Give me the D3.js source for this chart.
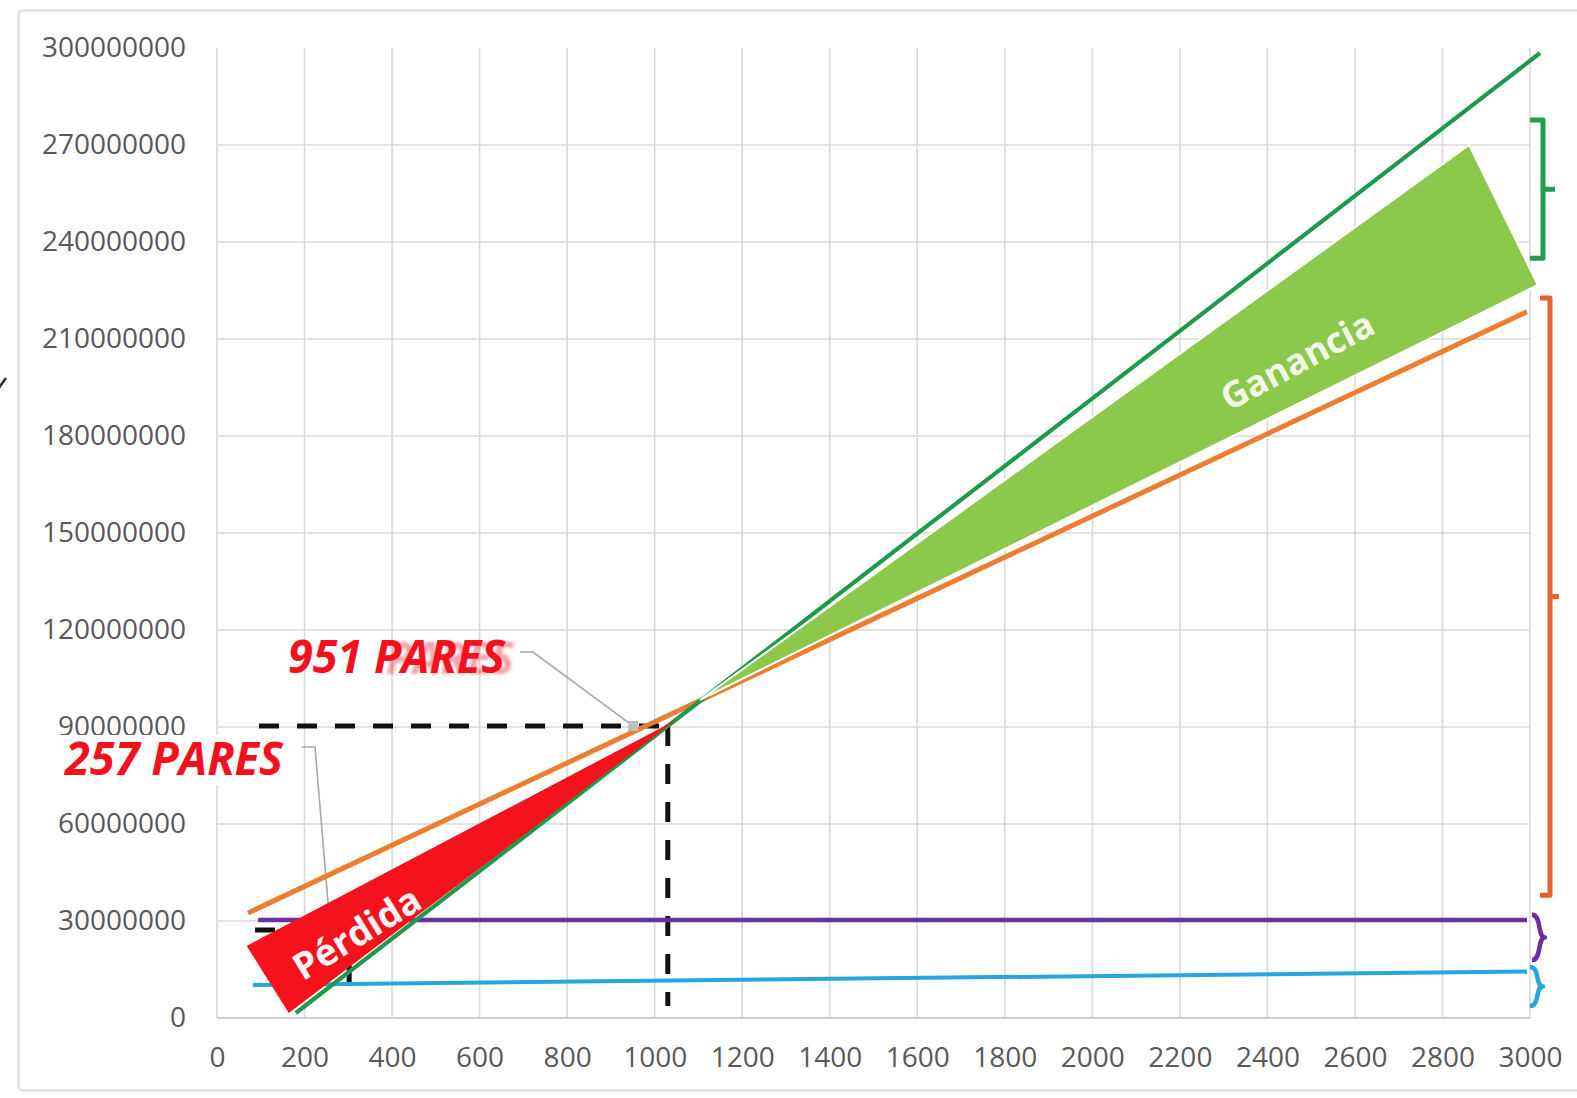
<!DOCTYPE html>
<html>
<head>
<meta charset="utf-8">
<script src="https://cdn.jsdelivr.net/npm/d3@7"></script>
<style>
  html, body { margin: 0; padding: 0; background: #fff; }
  svg { display: block; }
</style>
</head>
<body>
<svg id="chart" width="1577" height="1098"></svg>
<script>
// Axis ticks: units sold (pares) and money (pesos)
const xTicks = [0, 200, 400, 600, 800, 1000, 1200, 1400, 1600, 1800, 2000, 2200, 2400, 2600, 2800, 3000];
const yTicks = [0, 30000000, 60000000, 90000000, 120000000, 150000000, 180000000, 210000000, 240000000, 270000000, 300000000];

// Series endpoints as [pares, pesos]
const ingresos      = [[180, 1550000], [3023, 298450000]];
const costoTotal    = [[71, 32500000], [2993, 218400000]];
const costoFijo     = [[94, 30300000], [2993, 30300000]];
const costoVariable = [[82, 10200000], [2993, 14400000]];

// Shaded regions as [pares, pesos]
const perdidaArea  = [[1049, 92200000], [68, 22300000], [164, 1550000]];
const gananciaArea = [[1105, 98500000], [2861, 270000000], [3018, 226700000]];

// Reference points
const equilibrioPares = 951;
const equilibrioPesos = 90300000;
const guiaEquilibrio = { pares: 1030, desde: 96 };
const minimoPares = 257;
const guiaMinimo = { pares: 302, pesos: 27200000, desde: 87 };

// Brackets on the right edge: [from, to] in pesos
const llaves = [[235000000, 277700000], [38000000, 222700000], [17900000, 31900000], [3700000, 15800000]];

const svg = d3.select("#chart");
const x = d3.scaleLinear().domain([0, 3000]).range([217, 1530]);
const y = d3.scaleLinear().domain([0, 300000000]).range([1018, 48]);
const line = d3.line().x(d => x(d[0])).y(d => y(d[1]));
const FONT = "'Open Sans', 'DejaVu Sans', sans-serif";

// outer frame
svg.append("rect").attr("x", 18.5).attr("y", 10.5).attr("width", 1600).attr("height", 1080)
  .attr("rx", 4).attr("fill", "none").attr("stroke", "#dcdcdc").attr("stroke-width", 2);

// gridlines
const grid = svg.append("g").attr("stroke", "#d9d9d9").attr("stroke-width", 1.6);
grid.selectAll(".vg").data(xTicks).join("line")
  .attr("x1", d => x(d)).attr("x2", d => x(d)).attr("y1", y(300000000)).attr("y2", y(0));
grid.selectAll(".hg").data(yTicks.filter(d => d > 0 && d < 300000000)).join("line")
  .attr("x1", x(0)).attr("x2", x(3000)).attr("y1", d => y(d)).attr("y2", d => y(d));
svg.append("line").attr("x1", x(0)).attr("x2", x(3000)).attr("y1", y(0)).attr("y2", y(0))
  .attr("stroke", "#cfcfcf").attr("stroke-width", 2);

// axes
const yAxis = svg.append("g").attr("transform", `translate(${x(0)},0)`)
  .call(d3.axisLeft(y).tickValues(yTicks).tickFormat(d3.format("d")).tickSize(0).tickPadding(31));
const xAxis = svg.append("g").attr("transform", `translate(0,${y(0)})`)
  .call(d3.axisBottom(x).tickValues(xTicks).tickFormat(d3.format("d")).tickSize(0).tickPadding(29));
[yAxis, xAxis].forEach(a => {
  a.select(".domain").remove();
  a.selectAll("text").attr("fill", "#595959").style("font-family", FONT).style("font-size", "28px");
});
yAxis.selectAll("text").attr("dy", "0.3em");

// dashed guide lines
const dash = svg.append("g").attr("stroke", "#111").attr("stroke-width", 5)
  .attr("stroke-dasharray", "20 18").attr("fill", "none");
dash.append("path").attr("d", line([[guiaEquilibrio.desde, equilibrioPesos], [guiaEquilibrio.pares, equilibrioPesos]]));
dash.append("path").attr("d", line([[guiaEquilibrio.pares, equilibrioPesos], [guiaEquilibrio.pares, 3700000]]));
dash.append("path").attr("d", line([[guiaMinimo.desde, guiaMinimo.pesos], [guiaMinimo.pares, guiaMinimo.pesos]]));
dash.append("path").attr("d", line([[guiaMinimo.pares, guiaMinimo.pesos], [guiaMinimo.pares, 5000000]]))
  .attr("stroke-dashoffset", 4);

// callout leaders
const lead = svg.append("g").attr("stroke", "#a8a8a8").attr("stroke-width", 1.6).attr("fill", "none");
lead.append("path").attr("d", `M520,652 H533 L${x(equilibrioPares)},${y(equilibrioPesos)}`);
lead.append("path").attr("d", `M302,747 H315 L${x(minimoPares)},${y(30300000)}`);

// series lines
svg.append("path").attr("d", line(costoVariable)).attr("stroke", "#27a5df").attr("stroke-width", 4).attr("fill", "none");
svg.append("path").attr("d", line(costoFijo)).attr("stroke", "#6e2f9e").attr("stroke-width", 4.5).attr("fill", "none");
svg.append("path").attr("d", line(costoTotal)).attr("stroke", "#ec7d33").attr("stroke-width", 5).attr("fill", "none");
svg.append("path").attr("d", line(ingresos)).attr("stroke", "#1d9a4c").attr("stroke-width", 4.2).attr("fill", "none");

// profit and loss regions
svg.append("path").attr("d", line(gananciaArea) + "Z").attr("fill", "#8cc84b")
  .attr("stroke", "#fff").attr("stroke-width", 2).attr("stroke-linejoin", "round");
svg.append("path").attr("d", line(perdidaArea) + "Z").attr("fill", "#f5121c");

// break-even marker
svg.append("rect").attr("x", x(equilibrioPares) - 5).attr("y", y(equilibrioPesos) - 5)
  .attr("width", 10).attr("height", 10).attr("fill", "#bdbdbd");

// region labels
svg.append("text").text("Ganancia")
  .attr("transform", "translate(1297,360) rotate(-28.2)")
  .attr("text-anchor", "middle").attr("dominant-baseline", "central")
  .attr("fill", "#f1f8e6").style("font-family", FONT).style("font-weight", 700).style("font-size", "36px");
svg.append("text").text("Pérdida")
  .attr("transform", "translate(356,932) rotate(-31.5)")
  .attr("text-anchor", "middle").attr("dominant-baseline", "central")
  .attr("fill", "#fff3f3").style("font-family", FONT).style("font-weight", 700).style("font-size", "37px");

// brackets
const colLlave = ["#1e9e4e", "#e9612d", "#6e2f9e", "#27a5df"];
const g0 = svg.append("g").attr("fill", "none").attr("stroke-width", 5).attr("stroke-linejoin", "round");
[[0, 1530, 1543, 1555], [1, 1540, 1550, 1559]].forEach(([i, xl, xv, xt]) => {
  const [a, b] = llaves[i];
  const yt = y(b), yb = y(a), ym = (yt + yb) / 2;
  g0.append("path").attr("stroke", colLlave[i]).attr("d", `M${xl},${yt} H${xv} V${yb} H${xl} M${xv},${ym} H${xt}`);
});
[[2, 1532, 10], [3, 1530, 10]].forEach(([i, x0, w]) => {
  const [a, b] = llaves[i];
  const y0 = y(b), y1 = y(a), m = (y0 + y1) / 2;
  g0.append("path").attr("stroke", colLlave[i]).attr("stroke-width", 4.5)
    .attr("d", `M${x0},${y0} C${x0 + w},${y0} ${x0 + w * 0.5},${m} ${x0 + w * 1.3},${m} C${x0 + w * 0.5},${m} ${x0 + w},${y1} ${x0},${y1}`);
});

// small arrow tip at the left margin
svg.append("path").attr("d", "M-2,389 L6,378").attr("stroke", "#3b2b2b").attr("stroke-width", 2.5);

// value labels
const defs = svg.append("defs");
defs.append("filter").attr("id", "soft").append("feGaussianBlur").attr("stdDeviation", 1.6);
svg.append("text").text("PARES").attr("x", 386).attr("y", 674).attr("filter", "url(#soft)")
  .attr("fill", "#e8323c").attr("opacity", 0.45)
  .style("font-family", FONT).style("font-weight", 700).style("font-style", "italic").style("font-size", "44px");
svg.append("text").text(`${equilibrioPares} PARES`).attr("x", 288).attr("y", 673)
  .attr("textLength", 217).attr("lengthAdjust", "spacingAndGlyphs")
  .attr("fill", "#f5101e").style("font-family", FONT).style("font-weight", 700).style("font-style", "italic").style("font-size", "46px");

svg.append("rect").attr("x", 56).attr("y", 735).attr("width", 244).attr("height", 50).attr("fill", "#fff");
svg.append("text").text(`${minimoPares} PARES`).attr("x", 65).attr("y", 775)
  .attr("textLength", 218).attr("lengthAdjust", "spacingAndGlyphs")
  .attr("fill", "#f5101e").style("font-family", FONT).style("font-weight", 700).style("font-style", "italic").style("font-size", "46px");
</script>
</body>
</html>
